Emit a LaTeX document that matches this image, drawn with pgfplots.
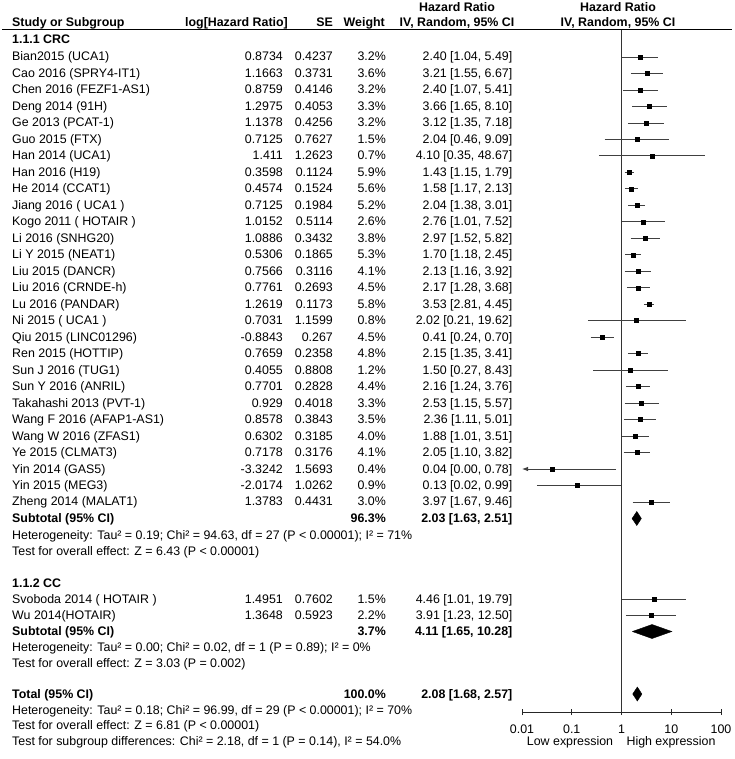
\documentclass[border=0pt]{standalone}
\usepackage{fontspec}
\setmainfont{Liberation Sans}
\usepackage{pgfplots}
\pgfplotsset{compat=1.18}
\usepackage{pgfplotstable}
\usetikzlibrary{arrows.meta}

% study rows: y (row centre, px), HR, lower, upper, weight (%)
\pgfplotstableread{
y hr lo hi w
57.00 2.40 1.04 5.49 3.2
73.48 3.21 1.55 6.67 3.6
89.96 2.40 1.07 5.41 3.2
106.44 3.66 1.65 8.10 3.3
122.92 3.12 1.35 7.18 3.2
139.40 2.04 0.46 9.09 1.5
155.88 4.10 0.35 48.67 0.7
172.36 1.43 1.15 1.79 5.9
188.84 1.58 1.17 2.13 5.6
205.32 2.04 1.38 3.01 5.2
221.80 2.76 1.01 7.52 2.6
238.28 2.97 1.52 5.82 3.8
254.76 1.70 1.18 2.45 5.3
271.24 2.13 1.16 3.92 4.1
287.72 2.17 1.28 3.68 4.5
304.20 3.53 2.81 4.45 5.8
320.68 2.02 0.21 19.62 0.8
337.16 0.41 0.24 0.70 4.5
353.64 2.15 1.35 3.41 4.8
370.12 1.50 0.27 8.43 1.2
386.60 2.16 1.24 3.76 4.4
403.08 2.53 1.15 5.57 3.3
419.56 2.36 1.11 5.01 3.5
436.04 1.88 1.01 3.51 4.0
452.52 2.05 1.10 3.82 4.1
469.00 0.04 0.01 0.78 0.4
485.48 0.13 0.02 0.99 0.9
501.96 3.97 1.67 9.46 3.0
599.50 4.46 1.01 19.79 1.5
615.50 3.91 1.23 12.50 2.2
}\studies

\newcommand\tl[2]{\node[anchor=base west] at (12,{#1+4}) {#2};}
\newcommand\tr[3]{\node[anchor=base east] at (#1,{#2+4}) {#3};}
\newcommand\tc[3]{\node[anchor=base] at (#1,{#2+4}) {#3};}
\newcommand\st[8]{\tl{#1}{#2}\tr{283}{#1}{#3}\tr{333}{#1}{#4}\tr{386}{#1}{#5\%}\tr{512.5}{#1}{#6 [#7, #8]}}
\newcommand\ci[3]{\addplot[cil] coordinates {(#1,#3) (#2,#3)};}

\begin{document}
\fontsize{12.4}{14}\selectfont
\begin{tikzpicture}
\path[use as bounding box] (0pt,0pt) rectangle (734pt,-759pt);
\begin{scope}[x=1pt,y=-1pt,every node/.style={inner sep=0pt,font=\fontsize{12.4}{14}\selectfont}]
% header
\tc{457}{7.5}{\bfseries Hazard Ratio}
\tc{618}{7.5}{\bfseries Hazard Ratio}
\tl{23}{\bfseries Study or Subgroup}
\tr{288}{23}{\bfseries log[Hazard Ratio]}
\tr{333}{23}{\bfseries SE}
\tr{385}{23}{\bfseries Weight}
\tc{457}{23}{\bfseries IV, Random, 95\% CI}
\tc{618}{23}{\bfseries IV, Random, 95\% CI}
\draw[line width=0.9pt] (2,29.5) -- (732,29.5);
% CRC
\tl{40}{\bfseries 1.1.1 CRC}
\st{57.00}{Bian2015 (UCA1)}{0.8734}{0.4237}{3.2}{2.40}{1.04}{5.49}
\st{73.48}{Cao 2016 (SPRY4-IT1)}{1.1663}{0.3731}{3.6}{3.21}{1.55}{6.67}
\st{89.96}{Chen 2016 (FEZF1-AS1)}{0.8759}{0.4146}{3.2}{2.40}{1.07}{5.41}
\st{106.44}{Deng 2014 (91H)}{1.2975}{0.4053}{3.3}{3.66}{1.65}{8.10}
\st{122.92}{Ge 2013 (PCAT-1)}{1.1378}{0.4256}{3.2}{3.12}{1.35}{7.18}
\st{139.40}{Guo 2015 (FTX)}{0.7125}{0.7627}{1.5}{2.04}{0.46}{9.09}
\st{155.88}{Han 2014 (UCA1)}{1.411}{1.2623}{0.7}{4.10}{0.35}{48.67}
\st{172.36}{Han 2016 (H19)}{0.3598}{0.1124}{5.9}{1.43}{1.15}{1.79}
\st{188.84}{He 2014 (CCAT1)}{0.4574}{0.1524}{5.6}{1.58}{1.17}{2.13}
\st{205.32}{Jiang 2016 ( UCA1 )}{0.7125}{0.1984}{5.2}{2.04}{1.38}{3.01}
\st{221.80}{Kogo 2011 ( HOTAIR )}{1.0152}{0.5114}{2.6}{2.76}{1.01}{7.52}
\st{238.28}{Li 2016 (SNHG20)}{1.0886}{0.3432}{3.8}{2.97}{1.52}{5.82}
\st{254.76}{Li Y 2015 (NEAT1)}{0.5306}{0.1865}{5.3}{1.70}{1.18}{2.45}
\st{271.24}{Liu 2015 (DANCR)}{0.7566}{0.3116}{4.1}{2.13}{1.16}{3.92}
\st{287.72}{Liu 2016 (CRNDE-h)}{0.7761}{0.2693}{4.5}{2.17}{1.28}{3.68}
\st{304.20}{Lu 2016 (PANDAR)}{1.2619}{0.1173}{5.8}{3.53}{2.81}{4.45}
\st{320.68}{Ni 2015 ( UCA1 )}{0.7031}{1.1599}{0.8}{2.02}{0.21}{19.62}
\st{337.16}{Qiu 2015 (LINC01296)}{-0.8843}{0.267}{4.5}{0.41}{0.24}{0.70}
\st{353.64}{Ren 2015 (HOTTIP)}{0.7659}{0.2358}{4.8}{2.15}{1.35}{3.41}
\st{370.12}{Sun J 2016 (TUG1)}{0.4055}{0.8808}{1.2}{1.50}{0.27}{8.43}
\st{386.60}{Sun Y 2016 (ANRIL)}{0.7701}{0.2828}{4.4}{2.16}{1.24}{3.76}
\st{403.08}{Takahashi 2013 (PVT-1)}{0.929}{0.4018}{3.3}{2.53}{1.15}{5.57}
\st{419.56}{Wang F 2016 (AFAP1-AS1)}{0.8578}{0.3843}{3.5}{2.36}{1.11}{5.01}
\st{436.04}{Wang W 2016 (ZFAS1)}{0.6302}{0.3185}{4.0}{1.88}{1.01}{3.51}
\st{452.52}{Ye 2015 (CLMAT3)}{0.7178}{0.3176}{4.1}{2.05}{1.10}{3.82}
\st{469.00}{Yin 2014 (GAS5)}{-3.3242}{1.5693}{0.4}{0.04}{0.00}{0.78}
\st{485.48}{Yin 2015 (MEG3)}{-2.0174}{1.0262}{0.9}{0.13}{0.02}{0.99}
\st{501.96}{Zheng 2014 (MALAT1)}{1.3783}{0.4431}{3.0}{3.97}{1.67}{9.46}
\tl{518.5}{\bfseries Subtotal (95\% CI)}
\tr{386}{518.5}{\bfseries 96.3\%}
\tr{512.5}{518.5}{\bfseries 2.03 [1.63, 2.51]}
\tl{535}{Heterogeneity: Tau² = 0.19; Chi² = 94.63, df = 27 (P < 0.00001); I² = 71\%}
\tl{551}{Test for overall effect: Z = 6.43 (P < 0.00001)}
% CC
\tl{583.5}{\bfseries 1.1.2 CC}
\st{599.50}{Svoboda 2014 ( HOTAIR )}{1.4951}{0.7602}{1.5}{4.46}{1.01}{19.79}
\st{615.50}{Wu 2014(HOTAIR)}{1.3648}{0.5923}{2.2}{3.91}{1.23}{12.50}
\tl{631.5}{\bfseries Subtotal (95\% CI)}
\tr{386}{631.5}{\bfseries 3.7\%}
\tr{512.5}{631.5}{\bfseries 4.11 [1.65, 10.28]}
\tl{647.5}{Heterogeneity: Tau² = 0.00; Chi² = 0.02, df = 1 (P = 0.89); I² = 0\%}
\tl{663}{Test for overall effect: Z = 3.03 (P = 0.002)}
% total
\tl{694}{\bfseries Total (95\% CI)}
\tr{386}{694}{\bfseries 100.0\%}
\tr{512.5}{694}{\bfseries 2.08 [1.68, 2.57]}
\tl{710}{Heterogeneity: Tau² = 0.18; Chi² = 96.99, df = 29 (P < 0.00001); I² = 70\%}
\tl{725.5}{Test for overall effect: Z = 6.81 (P < 0.00001)}
\tl{741}{Test for subgroup differences: Chi² = 2.18, df = 1 (P = 0.14), I² = 54.0\%}
\tc{570}{741}{Low expression}
\tc{671}{741}{High expression}
\end{scope}

\begin{axis}[
  at={(522pt,-712pt)}, anchor=south west,
  scale only axis, width=199pt, height=682.5pt,
  xmode=log, xmin=0.01, xmax=100,
  ymin=29.5, ymax=712, y dir=reverse,
  axis x line*=bottom, axis y line=none,
  every outer x axis line/.append style={-},
  axis line style={black!85, line width=0.8pt},
  xtick={0.01,0.1,1,10,100},
  xticklabels={0.01,0.1,1,10,100},
  minor xtick={}, xminorticks=false,
  ytick=\empty,
  tick align=center, major tick length=6pt,
  tick style={black!85, line width=0.8pt},
  x tick label style={font=\fontsize{12.4}{14}\selectfont, anchor=base, yshift=-18.5pt, inner sep=0pt},
  clip=false,
  cil/.style={black!75, line width=0.85pt, forget plot},
]
\addplot[black!80, line width=0.8pt] coordinates {(1,29.5) (1,712)};
\ci{1.04}{5.49}{57.00}
\ci{1.55}{6.67}{73.48}
\ci{1.07}{5.41}{89.96}
\ci{1.65}{8.10}{106.44}
\ci{1.35}{7.18}{122.92}
\ci{0.46}{9.09}{139.40}
\ci{0.35}{48.67}{155.88}
\ci{1.15}{1.79}{172.36}
\ci{1.17}{2.13}{188.84}
\ci{1.38}{3.01}{205.32}
\ci{1.01}{7.52}{221.80}
\ci{1.52}{5.82}{238.28}
\ci{1.18}{2.45}{254.76}
\ci{1.16}{3.92}{271.24}
\ci{1.28}{3.68}{287.72}
\ci{2.81}{4.45}{304.20}
\ci{0.21}{19.62}{320.68}
\ci{0.24}{0.70}{337.16}
\ci{1.35}{3.41}{353.64}
\ci{0.27}{8.43}{370.12}
\ci{1.24}{3.76}{386.60}
\ci{1.15}{5.57}{403.08}
\ci{1.11}{5.01}{419.56}
\ci{1.01}{3.51}{436.04}
\ci{1.10}{3.82}{452.52}
\addplot[cil, -{Latex[length=6pt,width=4.5pt]}] coordinates {(0.78,469.00) (0.01,469.00)};
\ci{0.02}{0.99}{485.48}
\ci{1.67}{9.46}{501.96}
\ci{1.01}{19.79}{599.50}
\ci{1.23}{12.50}{615.50}
% study markers
\addplot[scatter, only marks, mark=square*,
  point meta=\thisrow{w},
  visualization depends on={0.45+0.28*sqrt(\thisrow{w}) \as \ms},
  scatter/@pre marker code/.append style={/tikz/mark size=\ms},
  scatter/use mapped color={draw=black, fill=black}]
  table[x=hr, y=y] \studies;
% diamonds
\addplot[fill=black, draw=black] coordinates {(1.63,518.5) (2.03,511.5) (2.51,518.5) (2.03,525.5) (1.63,518.5)};
\addplot[fill=black, draw=black] coordinates {(1.65,631.5) (4.11,624.5) (10.28,631.5) (4.11,638.5) (1.65,631.5)};
\addplot[fill=black, draw=black] coordinates {(1.68,694) (2.08,687) (2.57,694) (2.08,701) (1.68,694)};
\end{axis}
\end{tikzpicture}
\end{document}
